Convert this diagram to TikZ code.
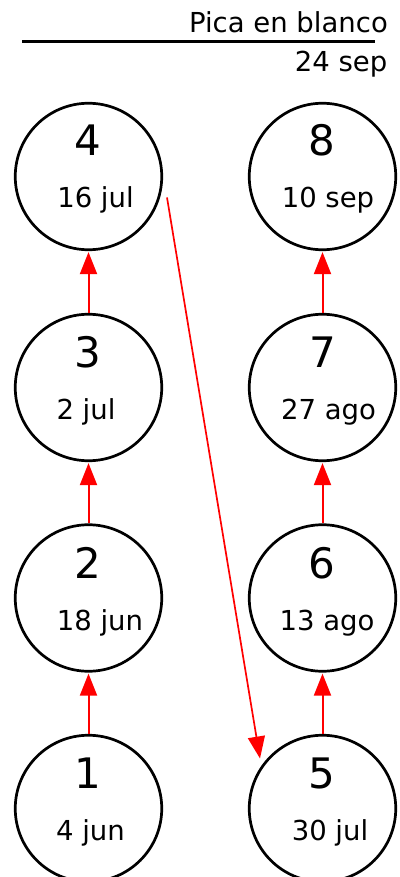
\documentclass[tikz,border=0pt]{standalone}
\usepackage{fontspec}
\setmainfont{DejaVu Sans}
\usetikzlibrary{arrows.meta,calc}
\begin{document}
\begin{tikzpicture}[x=1pt,y=-1pt]
\tikzset{
  stopnode/.style={circle, draw, line width=2.7pt, minimum size=146.5pt, inner sep=0pt},
  numlbl/.style={font=\fontsize{42}{42}\selectfont, anchor=base, inner sep=0pt},
  datelbl/.style={font=\fontsize{27.5}{28}\selectfont, anchor=base, inner sep=0pt},
  headlbl/.style={font=\fontsize{27.5}{28}\selectfont, anchor=base east, inner sep=0pt},
  link/.style={draw=red, line width=2pt, shorten >=1pt, -{Triangle[width=17pt,length=22pt]}},
  longlink/.style={draw=red, line width=1.7pt, -{Triangle[width=17pt,length=22pt]}},
}
\useasboundingbox (0,0) rectangle (399,877);
% header
\node[headlbl] (title) at (388,33) {Pica en blanco};
\coordinate (rulel) at (22,42);
\coordinate (ruler) at (375,42);
\draw[line width=3pt] (rulel) -- (ruler);
\node[headlbl] (final) at (387.5,72) {24 sep};
% circles
\node[stopnode] (c4) at (88.5,176.5) {};
\node[stopnode] (c3) at (88.5,387.5) {};
\node[stopnode] (c2) at (88.5,598) {};
\node[stopnode] (c1) at (88.5,808.5) {};
\node[stopnode] (c8) at (322.5,176.5) {};
\node[stopnode] (c7) at (322.5,387.5) {};
\node[stopnode] (c6) at (322.5,598) {};
\node[stopnode] (c5) at (322.5,808.5) {};
% numbers
\node[numlbl] (n4) at ($(c4.center)+(-1,-20.5)$) {4};
\node[numlbl] (n3) at ($(c3.center)+(-1,-20)$) {3};
\node[numlbl] (n2) at ($(c2.center)+(-1,-20)$) {2};
\node[numlbl] (n1) at ($(c1.center)+(-1,-20)$) {1};
\node[numlbl] (n8) at ($(c8.center)+(-1,-20.5)$) {8};
\node[numlbl] (n7) at ($(c7.center)+(0,-20)$) {7};
\node[numlbl] (n6) at ($(c6.center)+(-1,-20)$) {6};
\node[numlbl] (n5) at ($(c5.center)+(-1,-20)$) {5};
% dates
\node[datelbl] (d4) at ($(c4.center)+(7,31.5)$) {16 jul};
\node[datelbl] (d3) at ($(c3.center)+(-2.5,32)$) {2 jul};
\node[datelbl] (d2) at ($(c2.center)+(11.5,32)$) {18 jun};
\node[datelbl] (d1) at ($(c1.center)+(2,32)$) {4 jun};
\node[datelbl] (d8) at ($(c8.center)+(5.5,31.5)$) {10 sep};
\node[datelbl] (d7) at ($(c7.center)+(6,32)$) {27 ago};
\node[datelbl] (d6) at ($(c6.center)+(4.5,32)$) {13 ago};
\node[datelbl] (d5) at ($(c5.center)+(7.5,32)$) {30 jul};
% connectors
\draw[link] (c1.north) -- (c2.south);
\draw[link] (c2.north) -- (c3.south);
\draw[link] (c3.north) -- (c4.south);
\draw[link] (c5.north) -- (c6.south);
\draw[link] (c6.north) -- (c7.south);
\draw[link] (c7.north) -- (c8.south);
\coordinate (jumpa) at ($(c4.center)+(78.5,21)$);
\coordinate (jumpb) at ($(c5.center)+(-62.5,-50)$);
\draw[longlink] (jumpa) -- (jumpb);
\end{tikzpicture}
\end{document}
